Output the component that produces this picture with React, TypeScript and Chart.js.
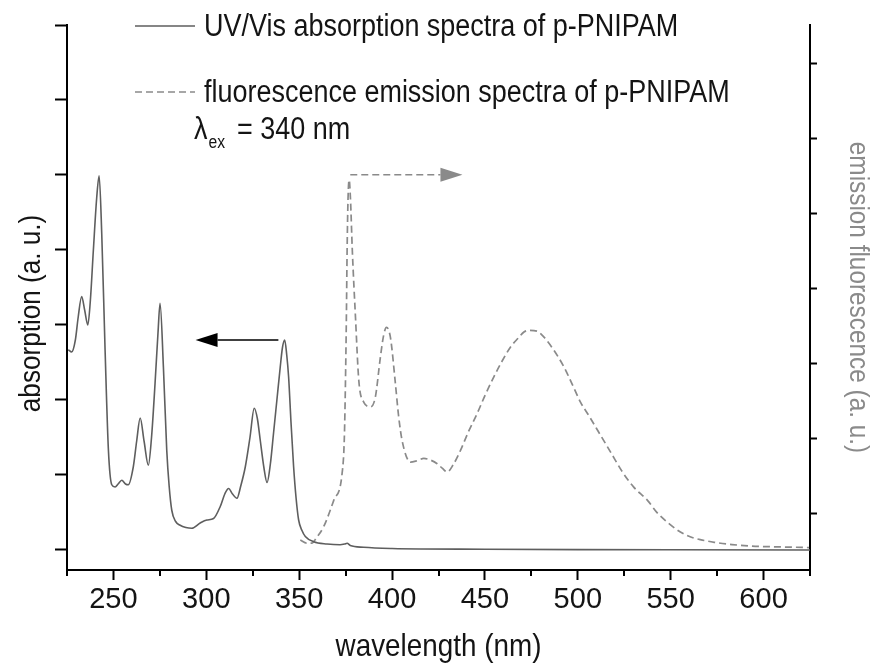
import React, { useEffect, useRef } from 'react';
import { Chart, registerables } from 'chart.js';

Chart.register(...registerables);

// ---------- data ----------
const absWavelength = [
  225.7, 227.5, 229.5, 231, 232.9, 234.5, 236.2, 237.5, 239.2, 241, 242.3, 243.7, 245.5, 247.3, 249.1,
  250.9, 252.5, 254.5, 256.5, 258, 260.7, 262.5, 264.4, 266.5, 268.8, 270.5, 272.4, 274, 275.1, 276.9,
  278.7, 280, 281.4, 283.5, 285.9, 289, 292.2, 296.7, 300.3, 303.9, 307.5, 310, 312, 314, 316.5, 318.5,
  321, 323.5, 325.8, 327.5, 329, 331, 332.7, 334.5, 336.2, 338, 339.8, 341, 342.2, 343.3, 344.3, 345.6,
  347, 348.3, 349.7, 351.5, 353.3, 357.8, 365, 372, 374.5, 375.8, 377.5, 384.7, 400, 450, 500, 550, 625,
];
const absValues = [
  2.67, 2.64, 2.8, 3.1, 3.38, 3.2, 3.0, 3.3, 4.0, 4.7, 4.99, 4.22, 2.67, 1.33, 0.87,
  0.84, 0.88, 0.93, 0.88, 0.87, 1.11, 1.45, 1.76, 1.45, 1.13, 1.5, 2.22, 2.9, 3.29, 2.44,
  1.33, 0.85, 0.53, 0.38, 0.33, 0.3, 0.29, 0.36, 0.4, 0.42, 0.58, 0.75, 0.82, 0.75, 0.69, 0.85,
  1.11, 1.5, 1.89, 1.75, 1.47, 1.1, 0.9, 1.15, 1.56, 2.0, 2.44, 2.7, 2.8, 2.6, 2.31, 1.7,
  1.11, 0.7, 0.4, 0.26, 0.18, 0.11, 0.08, 0.07, 0.08, 0.09, 0.06, 0.036, 0.02, 0.01, 0.005, 0.003, 0.0,
];

const emWavelength = [
  350.6, 354, 357, 359, 363.2, 368.6, 373.1, 374.3, 374.9, 375.4, 375.8, 376.3, 376.9, 377.6, 378.6,
  380.3, 382.1, 384.8, 388.4, 391, 393.7, 395.5, 397, 399.1, 401.8, 403.5, 405.4, 409.9, 413.5, 417.1,
  420.5, 424.3, 427, 429.7, 433, 436.9, 441, 445.8, 450, 454.8, 459, 463.8, 468, 471, 473.7, 478,
  481.8, 487, 492.6, 497, 501.5, 506, 512, 518, 524, 530, 537.5, 542.9, 550.1, 555, 560.8, 567,
  573.4, 583, 593.2, 605, 615, 624.5,
];
const emValues = [
  0.64, 0.6, 0.6, 0.66, 0.82, 1.17, 1.53, 2.0, 2.73, 3.6, 4.51, 5.2, 5.45, 5.2, 4.51,
  3.62, 2.77, 2.48, 2.42, 2.55, 3.08, 3.38, 3.48, 3.35, 2.73, 2.3, 1.97, 1.68, 1.7, 1.73,
  1.71, 1.66, 1.6, 1.55, 1.65, 1.84, 2.08, 2.33, 2.57, 2.82, 3.02, 3.22, 3.34, 3.42, 3.44, 3.43,
  3.35, 3.18, 2.95, 2.72, 2.48, 2.3, 2.05, 1.8, 1.55, 1.35, 1.17, 1.0, 0.84, 0.75, 0.68, 0.64,
  0.61, 0.58, 0.56, 0.55, 0.545, 0.54,
];

const xMajorTicks = [250, 300, 350, 400, 450, 500, 550, 600];
const xMinorTicks = [225, 275, 325, 375, 425, 475, 525, 575, 625];
const yLeftTicks = [0, 1, 2, 3, 4, 5, 6, 7];
const yRightTicks = [1, 2, 3, 4, 5, 6, 7];

// annotation arrows (data units)
const absArrow = { from: 338.8, to: 294.2, level: 2.8 }; // left axis
const emArrow = { from: 377.5, to: 437.9, level: 5.52 }; // right axis

const legendLabels = [
  'UV/Vis absorption spectra of p-PNIPAM',
  'fluorescence emission spectra of p-PNIPAM',
];
const excitationLabel = { symbol: 'λ', sub: 'ex', rest: '= 340 nm' };

const xTitle = 'wavelength (nm)';
const yLeftTitle = 'absorption (a. u.)';
const yRightTitle = 'emission fluorescence (a. u.)';

// ---------- styles ----------
const FAMILY = "'Liberation Sans', Arial, sans-serif";
const SQUEEZE = 0.87; // horizontally condensed lettering of the original
const ABS_COLOR = '#5e5e5e';
const EM_COLOR = '#8a8a8a';
const TEXT_COLOR = '#141414';

function drawText(
  ctx: CanvasRenderingContext2D,
  text: string,
  x: number,
  y: number,
  size: number,
  opts: { align?: CanvasTextAlign; baseline?: CanvasTextBaseline; rotate?: number; color?: string } = {},
) {
  ctx.save();
  ctx.translate(x, y);
  if (opts.rotate) ctx.rotate(opts.rotate);
  ctx.scale(SQUEEZE, 1);
  ctx.font = `${size}px ${FAMILY}`;
  ctx.fillStyle = opts.color || TEXT_COLOR;
  ctx.textAlign = opts.align || 'left';
  ctx.textBaseline = opts.baseline || 'middle';
  ctx.fillText(text, 0, 0);
  const w = ctx.measureText(text).width * SQUEEZE;
  ctx.restore();
  return w;
}

function drawArrow(ctx: CanvasRenderingContext2D, x1: number, y: number, x2: number, color: string, dash: number[], headLen: number, halfH: number) {
  const dir = Math.sign(x2 - x1);
  ctx.save();
  ctx.strokeStyle = color;
  ctx.fillStyle = color;
  ctx.lineWidth = 1.7;
  ctx.setLineDash(dash);
  ctx.beginPath();
  ctx.moveTo(x1, y);
  ctx.lineTo(x2 - dir * headLen, y);
  ctx.stroke();
  ctx.setLineDash([]);
  ctx.beginPath();
  ctx.moveTo(x2, y);
  ctx.lineTo(x2 - dir * headLen, y - halfH);
  ctx.lineTo(x2 - dir * headLen, y + halfH);
  ctx.closePath();
  ctx.fill();
  ctx.restore();
}

export default function App() {
  const ref = useRef<HTMLCanvasElement>(null);

  useEffect(() => {
    document.body.style.margin = '0';

    const overlay = {
      id: 'overlay',
      afterDraw(chart: any) {
        const { ctx, chartArea, scales } = chart;
        const sx = scales.x, sy = scales.y, sy2 = scales.y2;
        ctx.save();
        // minor x ticks
        ctx.strokeStyle = '#000';
        ctx.lineWidth = 2;
        xMinorTicks.forEach((v) => {
          const px = Math.round(sx.getPixelForValue(v));
          ctx.beginPath();
          ctx.moveTo(px, chartArea.bottom);
          ctx.lineTo(px, chartArea.bottom + 6);
          ctx.stroke();
        });
        // arrows
        drawArrow(ctx, sx.getPixelForValue(absArrow.from), sy.getPixelForValue(absArrow.level), sx.getPixelForValue(absArrow.to), '#000', [], 22, 7);
        drawArrow(ctx, sx.getPixelForValue(emArrow.from), sy2.getPixelForValue(emArrow.level), sx.getPixelForValue(emArrow.to), EM_COLOR, [7, 4], 22, 7);

        // legend
        const lx0 = chartArea.left + 68;
        const lx1 = chartArea.left + 128;
        const tx = chartArea.left + 137;
        ctx.lineWidth = 1.6;
        ctx.strokeStyle = ABS_COLOR;
        ctx.beginPath();
        ctx.moveTo(lx0, 26);
        ctx.lineTo(lx1, 26);
        ctx.stroke();
        ctx.strokeStyle = EM_COLOR;
        ctx.setLineDash([7, 4]);
        ctx.beginPath();
        ctx.moveTo(lx0, 92);
        ctx.lineTo(lx1, 92);
        ctx.stroke();
        ctx.setLineDash([]);

        drawText(ctx, legendLabels[0], tx, 27, 31);
        drawText(ctx, legendLabels[1], tx, 93, 31);
        // lambda_ex line
        const base = 139;
        let cx = tx - 10;
        cx += drawText(ctx, excitationLabel.symbol, cx, base, 31, { baseline: 'alphabetic' }) + 1;
        cx += drawText(ctx, excitationLabel.sub, cx, base + 9, 18, { baseline: 'alphabetic' }) + 12;
        drawText(ctx, excitationLabel.rest, cx, base, 31, { baseline: 'alphabetic' });

        // axis titles
        const midY = (chartArea.top + chartArea.bottom) / 2;
        drawText(ctx, xTitle, (chartArea.left + chartArea.right) / 2, 647, 32, { align: 'center' });
        drawText(ctx, yLeftTitle, 32, midY + 16, 30, { align: 'center', rotate: -Math.PI / 2 });
        drawText(ctx, yRightTitle, 858, midY, 28, { align: 'center', rotate: Math.PI / 2, color: EM_COLOR });
        ctx.restore();
      },
    };

    const chart = new Chart(ref.current as HTMLCanvasElement, {
      type: 'line',
      data: {
        datasets: [
          {
            label: legendLabels[0],
            data: absWavelength.map((x, i) => ({ x, y: absValues[i] })),
            borderColor: ABS_COLOR,
            borderWidth: 1.6,
            pointRadius: 0,
            cubicInterpolationMode: 'monotone',
            yAxisID: 'y',
          },
          {
            label: legendLabels[1],
            data: emWavelength.map((x, i) => ({ x, y: emValues[i] })),
            borderColor: EM_COLOR,
            borderWidth: 1.7,
            borderDash: [7, 4],
            pointRadius: 0,
            cubicInterpolationMode: 'monotone',
            yAxisID: 'y2',
          },
        ],
      },
      options: {
        responsive: false,
        animation: false,
        events: [],
        layout: { padding: { top: 25, left: 0, right: 0, bottom: 0 } },
        plugins: { legend: { display: false }, tooltip: { enabled: false }, title: { display: false } },
        scales: {
          x: {
            type: 'linear',
            position: 'bottom',
            min: 225,
            max: 625,
            border: { display: true, color: '#000', width: 2 },
            grid: { drawOnChartArea: false, drawTicks: true, tickLength: 10, tickWidth: 2, tickColor: '#000' },
            ticks: { color: TEXT_COLOR, font: { family: FAMILY, size: 29, lineHeight: 1 }, padding: 5, maxRotation: 0, autoSkip: false },
            afterBuildTicks: (s: any) => { s.ticks = xMajorTicks.map((value) => ({ value })); },
            afterFit: (s: any) => { s.height = 93; },
            title: { display: false, text: xTitle },
          },
          y: {
            type: 'linear',
            position: 'left',
            min: -0.2667,
            max: 7,
            border: { display: true, color: '#000', width: 2 },
            grid: { drawOnChartArea: false, drawTicks: true, tickLength: 12, tickWidth: 2, tickColor: '#000' },
            ticks: { display: false },
            afterBuildTicks: (s: any) => { s.ticks = yLeftTicks.map((value) => ({ value })); },
            afterFit: (s: any) => { s.width = 67; },
            title: { display: false, text: yLeftTitle },
          },
          y2: {
            type: 'linear',
            position: 'right',
            min: 0.24,
            max: 7.52,
            border: { display: true, color: '#000', width: 2 },
            grid: { drawOnChartArea: false, drawTicks: true, tickLength: 7, tickWidth: 2, tickColor: '#000' },
            ticks: { display: false },
            afterBuildTicks: (s: any) => { s.ticks = yRightTicks.map((value) => ({ value })); },
            afterFit: (s: any) => { s.width = 64; },
            title: { display: false, text: yRightTitle },
          },
        },
      },
      plugins: [overlay],
    } as any);
    return () => chart.destroy();
  }, []);

  return (
    <div style={{ width: 874, height: 663 }}>
      <canvas ref={ref} width={874} height={663} style={{ display: 'block' }} />
    </div>
  );
}
